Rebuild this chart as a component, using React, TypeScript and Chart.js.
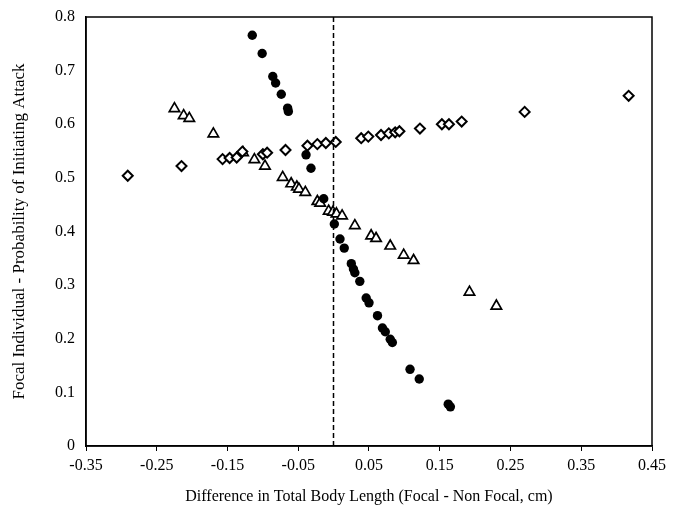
import React, { useEffect, useRef } from "react";
import { Chart, registerables } from "chart.js";

Chart.register(...registerables);

const xTickValues = [-0.35, -0.25, -0.15, -0.05, 0.05, 0.15, 0.25, 0.35, 0.45];
const yTickValues = [0, 0.1, 0.2, 0.3, 0.4, 0.5, 0.6, 0.7, 0.8];

const circleX = [-0.115, -0.101, -0.086, -0.082, -0.074, -0.065, -0.064, -0.039, -0.032, -0.014, 0.001, 0.009, 0.015, 0.025, 0.028, 0.030, 0.037, 0.046, 0.050, 0.062, 0.069, 0.073, 0.080, 0.083, 0.108, 0.121, 0.162, 0.165];
const circleY = [0.766, 0.732, 0.689, 0.677, 0.656, 0.630, 0.624, 0.543, 0.518, 0.461, 0.414, 0.386, 0.369, 0.340, 0.330, 0.323, 0.307, 0.276, 0.267, 0.243, 0.220, 0.213, 0.199, 0.193, 0.143, 0.125, 0.078, 0.073];

const diamondX = [-0.291, -0.215, -0.157, -0.147, -0.137, -0.129, -0.100, -0.094, -0.068, -0.037, -0.023, -0.011, 0.003, 0.039, 0.049, 0.067, 0.078, 0.087, 0.093, 0.122, 0.153, 0.163, 0.181, 0.270, 0.417];
const diamondY = [0.504, 0.522, 0.535, 0.537, 0.538, 0.549, 0.544, 0.547, 0.552, 0.560, 0.563, 0.565, 0.567, 0.574, 0.577, 0.580, 0.583, 0.585, 0.587, 0.592, 0.600, 0.600, 0.605, 0.623, 0.653];

const triangleX = [-0.225, -0.212, -0.204, -0.170, -0.128, -0.112, -0.097, -0.072, -0.060, -0.052, -0.049, -0.040, -0.023, -0.019, -0.007, -0.001, 0.004, 0.012, 0.030, 0.053, 0.060, 0.080, 0.099, 0.113, 0.192, 0.230];
const triangleY = [0.629, 0.616, 0.611, 0.582, 0.547, 0.534, 0.522, 0.501, 0.489, 0.483, 0.479, 0.473, 0.456, 0.453, 0.438, 0.436, 0.433, 0.429, 0.411, 0.392, 0.387, 0.373, 0.356, 0.346, 0.287, 0.261];

const xTitle = "Difference in Total Body Length (Focal - Non Focal, cm)";
const yTitle = "Focal Individual - Probability of Initiating Attack";

const pts = (xs: number[], ys: number[]) => xs.map((x, i) => ({ x, y: ys[i] }));

const FONT = "'Liberation Serif', 'DejaVu Serif', serif";

const framePlugin = {
  id: "frameAndZero",
  afterDatasetsDraw(chart: any) {
    const { ctx, chartArea, scales } = chart;
    ctx.save();
    const x0 = Math.round(scales.x.getPixelForValue(0)) - 0.5;
    ctx.strokeStyle = "#000";
    ctx.lineWidth = 1.5;
    ctx.setLineDash([5, 3]);
    ctx.beginPath();
    ctx.moveTo(x0, chartArea.top);
    ctx.lineTo(x0, chartArea.bottom);
    ctx.stroke();
    ctx.setLineDash([]);
    ctx.lineWidth = 1.5;
    ctx.strokeRect(chartArea.left, chartArea.top, chartArea.right - chartArea.left, chartArea.bottom - chartArea.top);
    ctx.restore();
  },
};

export default function App() {
  const ref = useRef<HTMLCanvasElement | null>(null);
  useEffect(() => {
    if (!ref.current) return;
    const chart = new Chart(ref.current, {
      type: "scatter",
      data: {
        datasets: [
          {
            label: "circles",
            data: pts(circleX, circleY),
            pointStyle: "circle",
            pointRadius: 4.7,
            backgroundColor: "#000",
            borderColor: "#000",
            borderWidth: 0,
          },
          {
            label: "diamonds",
            data: pts(diamondX, diamondY),
            pointStyle: "rectRot",
            pointRadius: 5,
            backgroundColor: "#fff",
            borderColor: "#000",
            borderWidth: 2,
          },
          {
            label: "triangles",
            data: pts(triangleX, triangleY),
            pointStyle: "triangle",
            pointRadius: 6,
            backgroundColor: "#fff",
            borderColor: "#000",
            borderWidth: 1.7,
          },
        ],
      },
      options: {
        animation: false,
        responsive: false,
        maintainAspectRatio: false,
        layout: { padding: { top: 17, right: 27, left: 0, bottom: 0 } },
        plugins: { legend: { display: false }, tooltip: { enabled: false } },
        scales: {
          x: {
            type: "linear",
            min: xTickValues[0],
            max: xTickValues[xTickValues.length - 1],
            afterBuildTicks: (s: any) => {
              s.ticks = xTickValues.map((v) => ({ value: v }));
            },
            afterFit: (s: any) => {
              s.height = 67;
              s.paddingLeft = 0;
              s.paddingRight = 0;
            },
            ticks: {
              color: "#000",
              font: { family: FONT, size: 16 },
              padding: 5,
              maxRotation: 0,
              autoSkip: false,
              callback: (v: any) => Number(v).toFixed(2),
            },
            grid: { display: true, drawOnChartArea: false, drawTicks: true, tickLength: 5, color: "#000", lineWidth: 1 },
            border: { display: true, color: "#000", width: 1.5 },
            title: { display: true, text: xTitle, color: "#000", font: { family: FONT, size: 16 }, padding: { top: 0, bottom: 7 } },
          },
          y: {
            type: "linear",
            min: yTickValues[0],
            max: yTickValues[yTickValues.length - 1],
            afterBuildTicks: (s: any) => {
              s.ticks = yTickValues.map((v) => ({ value: v }));
            },
            afterFit: (s: any) => {
              s.width = 86;
              s.paddingTop = 0;
              s.paddingBottom = 0;
            },
            ticks: {
              color: "#000",
              font: { family: FONT, size: 16 },
              padding: 11,
              autoSkip: false,
              callback: (v: any) => (Number(v) === 0 ? "0" : Number(v).toFixed(1)),
            },
            grid: { display: true, drawOnChartArea: false, drawTicks: false, tickLength: 0, color: "#000" },
            border: { display: true, color: "#000", width: 1.5 },
            title: { display: true, text: yTitle, color: "#000", font: { family: FONT, size: 17 }, padding: { top: 9, bottom: 0 } },
          },
        },
      },
      plugins: [framePlugin],
    } as any);
    return () => chart.destroy();
  }, []);
  return (
    <div style={{ position: "absolute", left: 0, top: 0, width: 679, height: 513, background: "#fff" }}>
      <canvas ref={ref} width={679} height={513} style={{ width: 679, height: 513 }} />
    </div>
  );
}
